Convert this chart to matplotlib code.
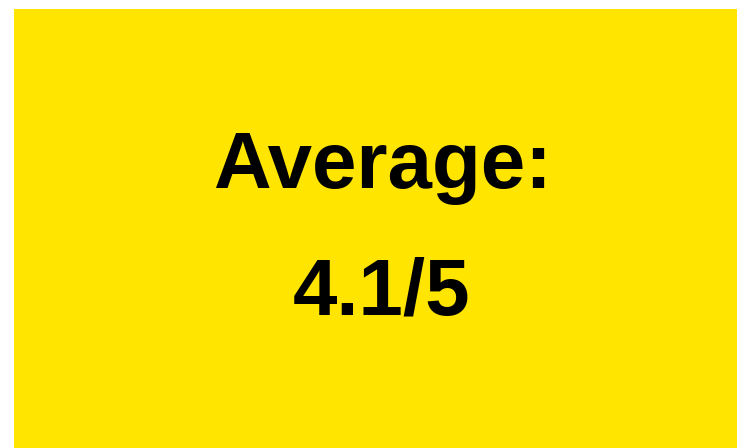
import matplotlib
matplotlib.use("Agg")
import matplotlib.pyplot as plt

label = "Average:"
score = 4.1
max_score = 5

W, H = 737, 448
fig = plt.figure(figsize=(W / 100, H / 100), dpi=100)
fig.patch.set_facecolor("white")

ax = fig.add_axes([14 / W, 0, 1 - 14 / W, 1 - 9 / H])
ax.set_facecolor("#FFE500")
ax.set_xticks([])
ax.set_yticks([])
for s in ax.spines.values():
    s.set_visible(False)

cx = 382 / W
fig.text(cx, 1 - 188 / H, label, ha="center", va="baseline",
         fontsize=57.5, fontweight="bold", family="Liberation Sans", color="black")
fig.text(cx, 1 - 315 / H, f"{score}/{max_score}", ha="center", va="baseline",
         fontsize=57.5, fontweight="bold", family="Liberation Sans", color="black")

fig.savefig("out.png", dpi=100, facecolor=fig.get_facecolor())
